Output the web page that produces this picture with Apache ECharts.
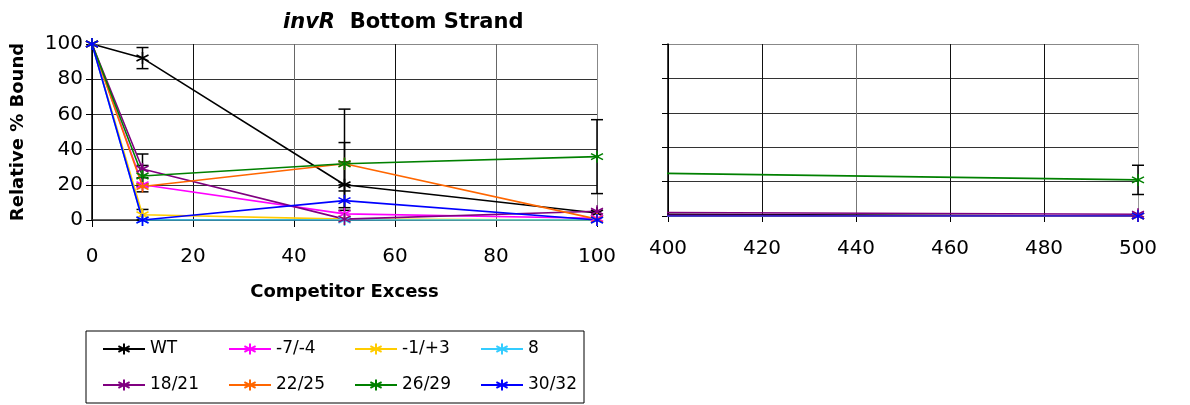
<!DOCTYPE html>
<html>
<head>
<meta charset="utf-8">
<script src="https://cdn.jsdelivr.net/npm/echarts@6/dist/echarts.min.js"></script>
<style>
html, body { margin: 0; background: #fff; }
#main { width: 1190px; height: 405px; }
</style>
</head>
<body>
<div id="main"></div>
<script>
// competitor excess (x) and relative % bound per mutant
var excess = [0, 10, 50, 100, 500];
var names = ['WT', '-7/-4', '-1/+3', '8', '18/21', '22/25', '26/29', '30/32'];
var colors = ['#000000', '#FF00FF', '#FFCC00', '#33CCFF', '#800080', '#FF6600', '#008000', '#0000FF'];
var wt = [100, 92, 20, 4, 0];
var m7m4 = [100, 20, 3.5, 1, 0];
var m1p3 = [100, 3, 0.5, 0, 0];
var p8 = [100, 0, 0, 0, 0];
var p1821 = [100, 29, 0.5, 5, 1];
var p2225 = [100, 19, 32, 0.5, 0];
var p2629 = [100, 25, 32, 36, 21];
var p3032 = [100, 0, 11, 0, 0];
var allValues = [wt, m7m4, m1p3, p8, p1821, p2225, p2629, p3032];
// error bars: x, low, high
var errX = [10, 10, 10, 10, 10, 50, 50, 50, 50, 100, 500];
var errLow = [86, 20.5, 19, 16, 0, 1, 20, 7, 5.5, 15, 12.5];
var errHigh = [98, 37.5, 31, 24, 6, 63, 44, 33, 16.5, 57, 29.5];

var font = '"DejaVu Sans", sans-serif';
var star = 'path://M5,0L5,10M0.67,2.5L9.33,7.5M0.67,7.5L9.33,2.5';

var myChart = echarts.init(document.getElementById('main'));

function errSeries(idx, lo, hi) {
    var d = [];
    for (var i = 0; i < errX.length; i++) {
        if (errX[i] >= lo && errX[i] <= hi) d.push([errX[i], errLow[i], errHigh[i]]);
    }
    return {
        type: 'custom',
        xAxisIndex: idx,
        yAxisIndex: idx,
        z: 1,
        silent: true,
        data: d,
        renderItem: function (params, api) {
            var top = api.coord([api.value(0), api.value(2)]);
            var bot = api.coord([api.value(0), api.value(1)]);
            var w = 6;
            var st = { stroke: '#000', lineWidth: 1.5 };
            return {
                type: 'group',
                children: [
                    { type: 'line', shape: { x1: top[0], y1: top[1], x2: bot[0], y2: bot[1] }, style: st },
                    { type: 'line', shape: { x1: top[0] - w, y1: top[1], x2: top[0] + w, y2: top[1] }, style: st },
                    { type: 'line', shape: { x1: bot[0] - w, y1: bot[1], x2: bot[0] + w, y2: bot[1] }, style: st }
                ]
            };
        }
    };
}

var series = [errSeries(0, 0, 100), errSeries(1, 400, 500)];
for (var g = 0; g < 2; g++) {
    for (var s = 0; s < names.length; s++) {
        series.push({
            name: names[s],
            type: 'line',
            xAxisIndex: g,
            yAxisIndex: g,
            z: 2,
            data: excess.map(function (x, i) { return [x, allValues[s][i]]; }),
            symbol: star,
            symbolSize: 12,
            showAllSymbol: true,
            lineStyle: { color: colors[s], width: 1.6 },
            itemStyle: { color: colors[s], borderColor: colors[s], borderWidth: 1.6 },
            emphasis: { disabled: true },
            animation: false
        });
    }
}

var gridColors = ['#333', '#333', '#333', '#333', '#333', '#888'];
var legendText = {
    rich: { a: { width: 56, fontSize: 17, fontFamily: font, color: '#000', lineHeight: 20 } },
    lineHeight: 20
};

option = {
    animation: false,
    textStyle: { fontFamily: font },
    title: {
        text: '{i|invR}{b|  Bottom Strand}',
        left: 278,
        top: 7,
        textStyle: {
            rich: {
                i: { fontFamily: font, fontSize: 21, fontWeight: 'bold', fontStyle: 'italic', color: '#000' },
                b: { fontFamily: font, fontSize: 21, fontWeight: 'bold', color: '#000' }
            }
        }
    },
    legend: [
        {
            data: names.slice(0, 4),
            left: 86,
            top: 331,
            padding: [8, 0, 44, 16],
            borderColor: '#000',
            borderWidth: 1,
            itemWidth: 42,
            itemHeight: 14,
            itemGap: 22,
            selectedMode: false,
            formatter: '{a|{name}}',
            textStyle: legendText
        },
        {
            data: names.slice(4),
            left: 86,
            top: 375,
            padding: [0, 0, 0, 16],
            itemWidth: 42,
            itemHeight: 14,
            itemGap: 22,
            selectedMode: false,
            formatter: '{a|{name}}',
            textStyle: legendText
        }
    ],
    grid: [
        { left: 92, top: 44, width: 505, height: 176 },
        { left: 668, top: 44, width: 470, height: 172 }
    ],
    xAxis: [
        {
            type: 'value', gridIndex: 0, min: 0, max: 100, interval: 20,
            name: 'Competitor Excess', nameLocation: 'middle', nameGap: 63,
            nameTextStyle: { fontSize: 18, fontWeight: 'bold', color: '#000', fontFamily: font },
            axisLine: { show: true, onZero: false, lineStyle: { color: '#333', width: 1.5 } },
            axisTick: { show: true, length: 7, lineStyle: { color: '#000' } },
            axisLabel: { fontSize: 20, color: '#000', margin: 27, fontFamily: font },
            splitLine: { show: true, lineStyle: { color: ['#000', '#111', '#666', '#111', '#666', '#888'], width: 1 } }
        },
        {
            type: 'value', gridIndex: 1, min: 400, max: 500, interval: 20,
            axisLine: { show: true, onZero: false, lineStyle: { color: '#333', width: 1.5 } },
            axisTick: { show: true, length: 6, lineStyle: { color: '#000' } },
            axisLabel: { fontSize: 20, color: '#000', margin: 23, fontFamily: font },
            splitLine: { show: true, lineStyle: { color: ['#000', '#111', '#777', '#111', '#111', '#999'], width: 1 } }
        }
    ],
    yAxis: [
        {
            type: 'value', gridIndex: 0, min: 0, max: 100, interval: 20,
            name: 'Relative % Bound', nameLocation: 'middle', nameGap: 65, nameRotate: 90,
            nameTextStyle: { fontSize: 18, fontWeight: 'bold', color: '#000', fontFamily: font },
            axisLine: { show: true, lineStyle: { color: '#000', width: 1.5 } },
            axisTick: { show: true, length: 6, lineStyle: { color: '#000' } },
            axisLabel: { fontSize: 20, color: '#000', margin: 9, fontFamily: font },
            splitLine: { show: true, lineStyle: { color: gridColors, width: 1 } }
        },
        {
            type: 'value', gridIndex: 1, min: 0, max: 100, interval: 20,
            axisLine: { show: true, lineStyle: { color: '#000', width: 1.5 } },
            axisTick: { show: true, length: 6, lineStyle: { color: '#000' } },
            axisLabel: { show: false },
            splitLine: { show: true, lineStyle: { color: gridColors, width: 1 } }
        }
    ],
    series: series
};
myChart.setOption(option);
</script>
</body>
</html>
